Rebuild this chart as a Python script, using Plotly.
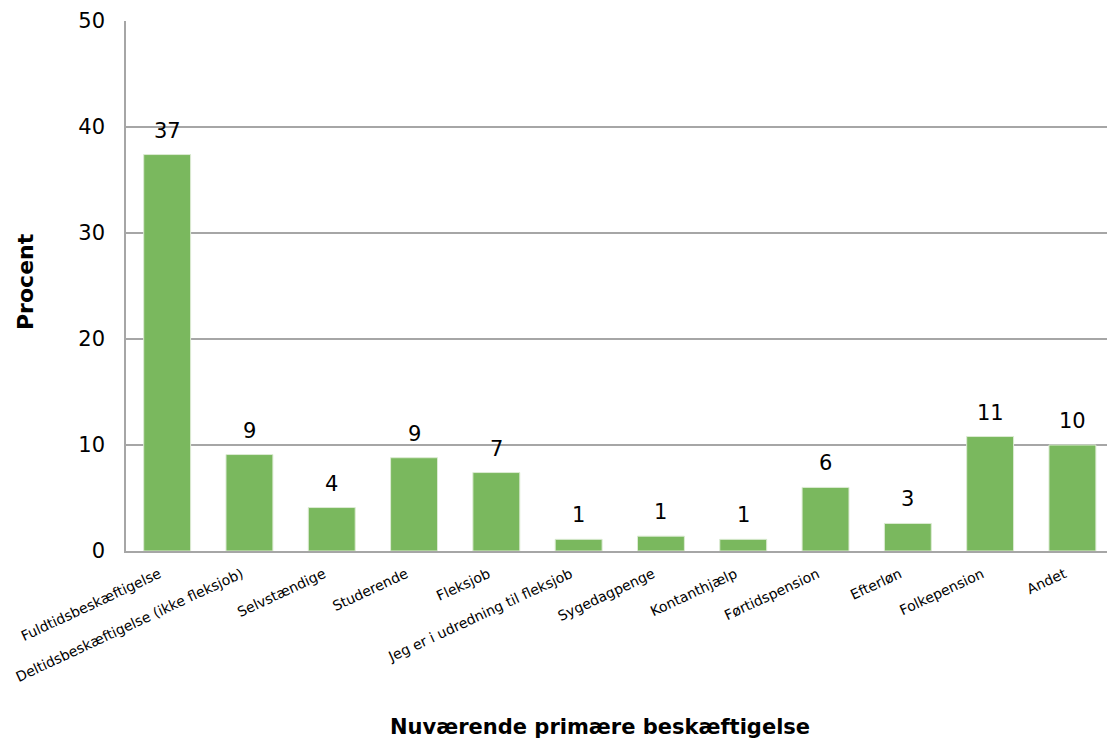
import plotly.graph_objects as go

# Primary occupation categories and their share (percent)
categories = [
    "Fuldtidsbeskæftigelse",
    "Deltidsbeskæftigelse (ikke fleksjob)",
    "Selvstændige",
    "Studerende",
    "Fleksjob",
    "Jeg er i udredning til fleksjob",
    "Sygedagpenge",
    "Kontanthjælp",
    "Førtidspension",
    "Efterløn",
    "Folkepension",
    "Andet",
]
percent = [37.4, 9.1, 4.1, 8.8, 7.4, 1.1, 1.4, 1.1, 6.0, 2.6, 10.8, 10.0]
y_ticks = [0, 10, 20, 30, 40, 50]

FONT = "Verdana, DejaVu Sans, sans-serif"
BAR_COLOR = "#7AB85E"
GRID_COLOR = "#A6A6A6"

fig = go.Figure(
    go.Bar(
        x=categories,
        y=percent,
        marker=dict(color=BAR_COLOR, line=dict(color="#DCEBD3", width=1)),
        hoverinfo="x+y",
    )
)

# Rounded value labels above each bar
for cat, val in zip(categories, percent):
    fig.add_annotation(
        x=cat, y=val, text=f"{val:.0f}",
        showarrow=False, yanchor="bottom", yshift=10,
        font=dict(family=FONT, size=21, color="#000000"),
    )

# Axis titles
fig.add_annotation(
    x=0.5, xref="paper", y=0, yref="paper", yshift=-176, xshift=-17,
    text="<b>Nuværende primære beskæftigelse</b>", showarrow=False,
    font=dict(family=FONT, size=21, color="#000000"), yanchor="middle",
)
fig.add_annotation(
    x=0, xref="paper", y=0.5, yref="paper", xshift=-101, yshift=4,
    text="<b>Procent</b>", showarrow=False, textangle=-90,
    font=dict(family=FONT, size=22, color="#000000"), xanchor="center",
)

fig.update_layout(
    width=1107, height=740,
    margin=dict(l=126, r=0, t=21, b=189, autoexpand=False),
    paper_bgcolor="white", plot_bgcolor="white",
    bargap=0.43,
    showlegend=False,
    font=dict(family=FONT, color="#000000"),
)
fig.update_xaxes(
    range=[-0.5, 11.42],
    tickangle=-25,
    tickfont=dict(family=FONT, size=14, color="#000000"),
    showline=True, linecolor=GRID_COLOR, linewidth=1.5,
    showgrid=False, ticks="",
    ticklabelstandoff=8, ticklabelshift=-8,
)
fig.update_yaxes(
    range=[0, 50],
    tickvals=y_ticks,
    tickfont=dict(family=FONT, size=21, color="#000000"),
    showline=True, linecolor=GRID_COLOR, linewidth=1.5,
    showgrid=True, gridcolor=GRID_COLOR, gridwidth=1.5,
    zeroline=False, ticks="", ticklabelstandoff=15,
)

fig.write_html("out.html")
